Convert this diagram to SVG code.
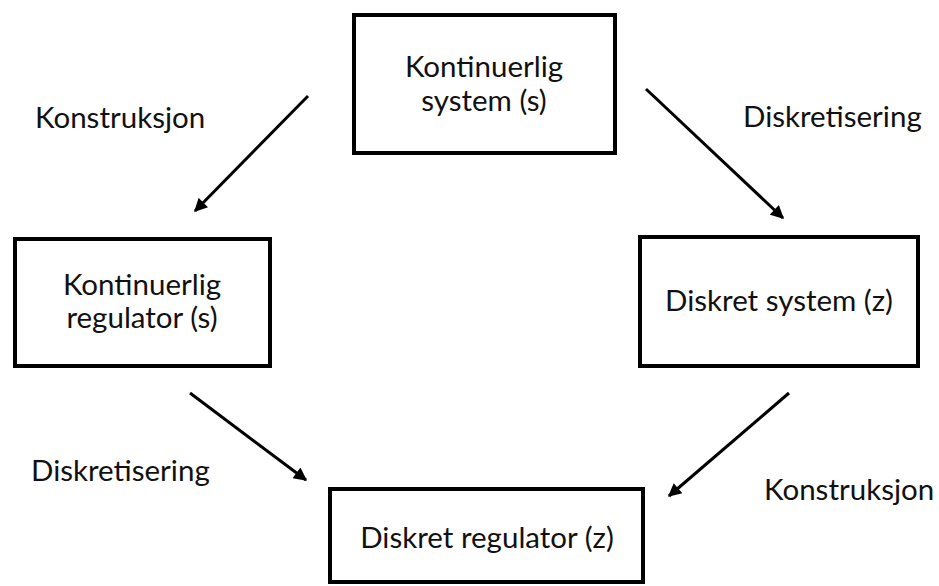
<svg xmlns="http://www.w3.org/2000/svg" width="939" height="586" viewBox="0 0 939 586">
<style>
.box{fill:#fff;stroke:#000;stroke-width:4}
.t{font-family:Lato,"Open Sans","Liberation Sans",sans-serif;font-size:29.5px;fill:#111}
.c{text-anchor:middle}
.edge{stroke:#000;stroke-width:3;fill:none}
</style>
<defs>
<marker id="ah" viewBox="0 0 10 10" refX="9" refY="5" markerWidth="5" markerHeight="4.4" orient="auto" markerUnits="strokeWidth">
<path d="M0,0 L10,5 L0,10 z" fill="#000"/>
</marker>
</defs>
<rect width="939" height="586" fill="#fff"/>
<g id="connectors">
<line class="edge" x1="308" y1="96" x2="195" y2="211" marker-end="url(#ah)"/>
<line class="edge" x1="646" y1="89" x2="783" y2="218" marker-end="url(#ah)"/>
<line class="edge" x1="190" y1="393" x2="306" y2="480" marker-end="url(#ah)"/>
<line class="edge" x1="789" y1="393" x2="669" y2="496" marker-end="url(#ah)"/>
</g>
<g id="labels">
<text class="t" x="35" y="128">Konstruksjon</text>
<text class="t" x="743" y="127">Diskretisering</text>
<text class="t" x="31" y="481">Diskretisering</text>
<text class="t" x="764" y="500">Konstruksjon</text>
</g>
<g id="node-kont-system">
<rect class="box" x="354" y="15" width="261" height="138"/>
<text class="t c" x="484" y="77">Kontinuerlig</text>
<text class="t c" x="484" y="111">system (s)</text>
</g>
<g id="node-kont-regulator">
<rect class="box" x="15" y="239" width="255" height="127"/>
<text class="t c" x="142" y="295">Kontinuerlig</text>
<text class="t c" x="142" y="328">regulator (s)</text>
</g>
<g id="node-diskret-system">
<rect class="box" x="640" y="237" width="278" height="129"/>
<text class="t c" x="779" y="311">Diskret system (z)</text>
</g>
<g id="node-diskret-regulator">
<rect class="box" x="330" y="489" width="313" height="93"/>
<text class="t c" x="487" y="548">Diskret regulator (z)</text>
</g>
</svg>
